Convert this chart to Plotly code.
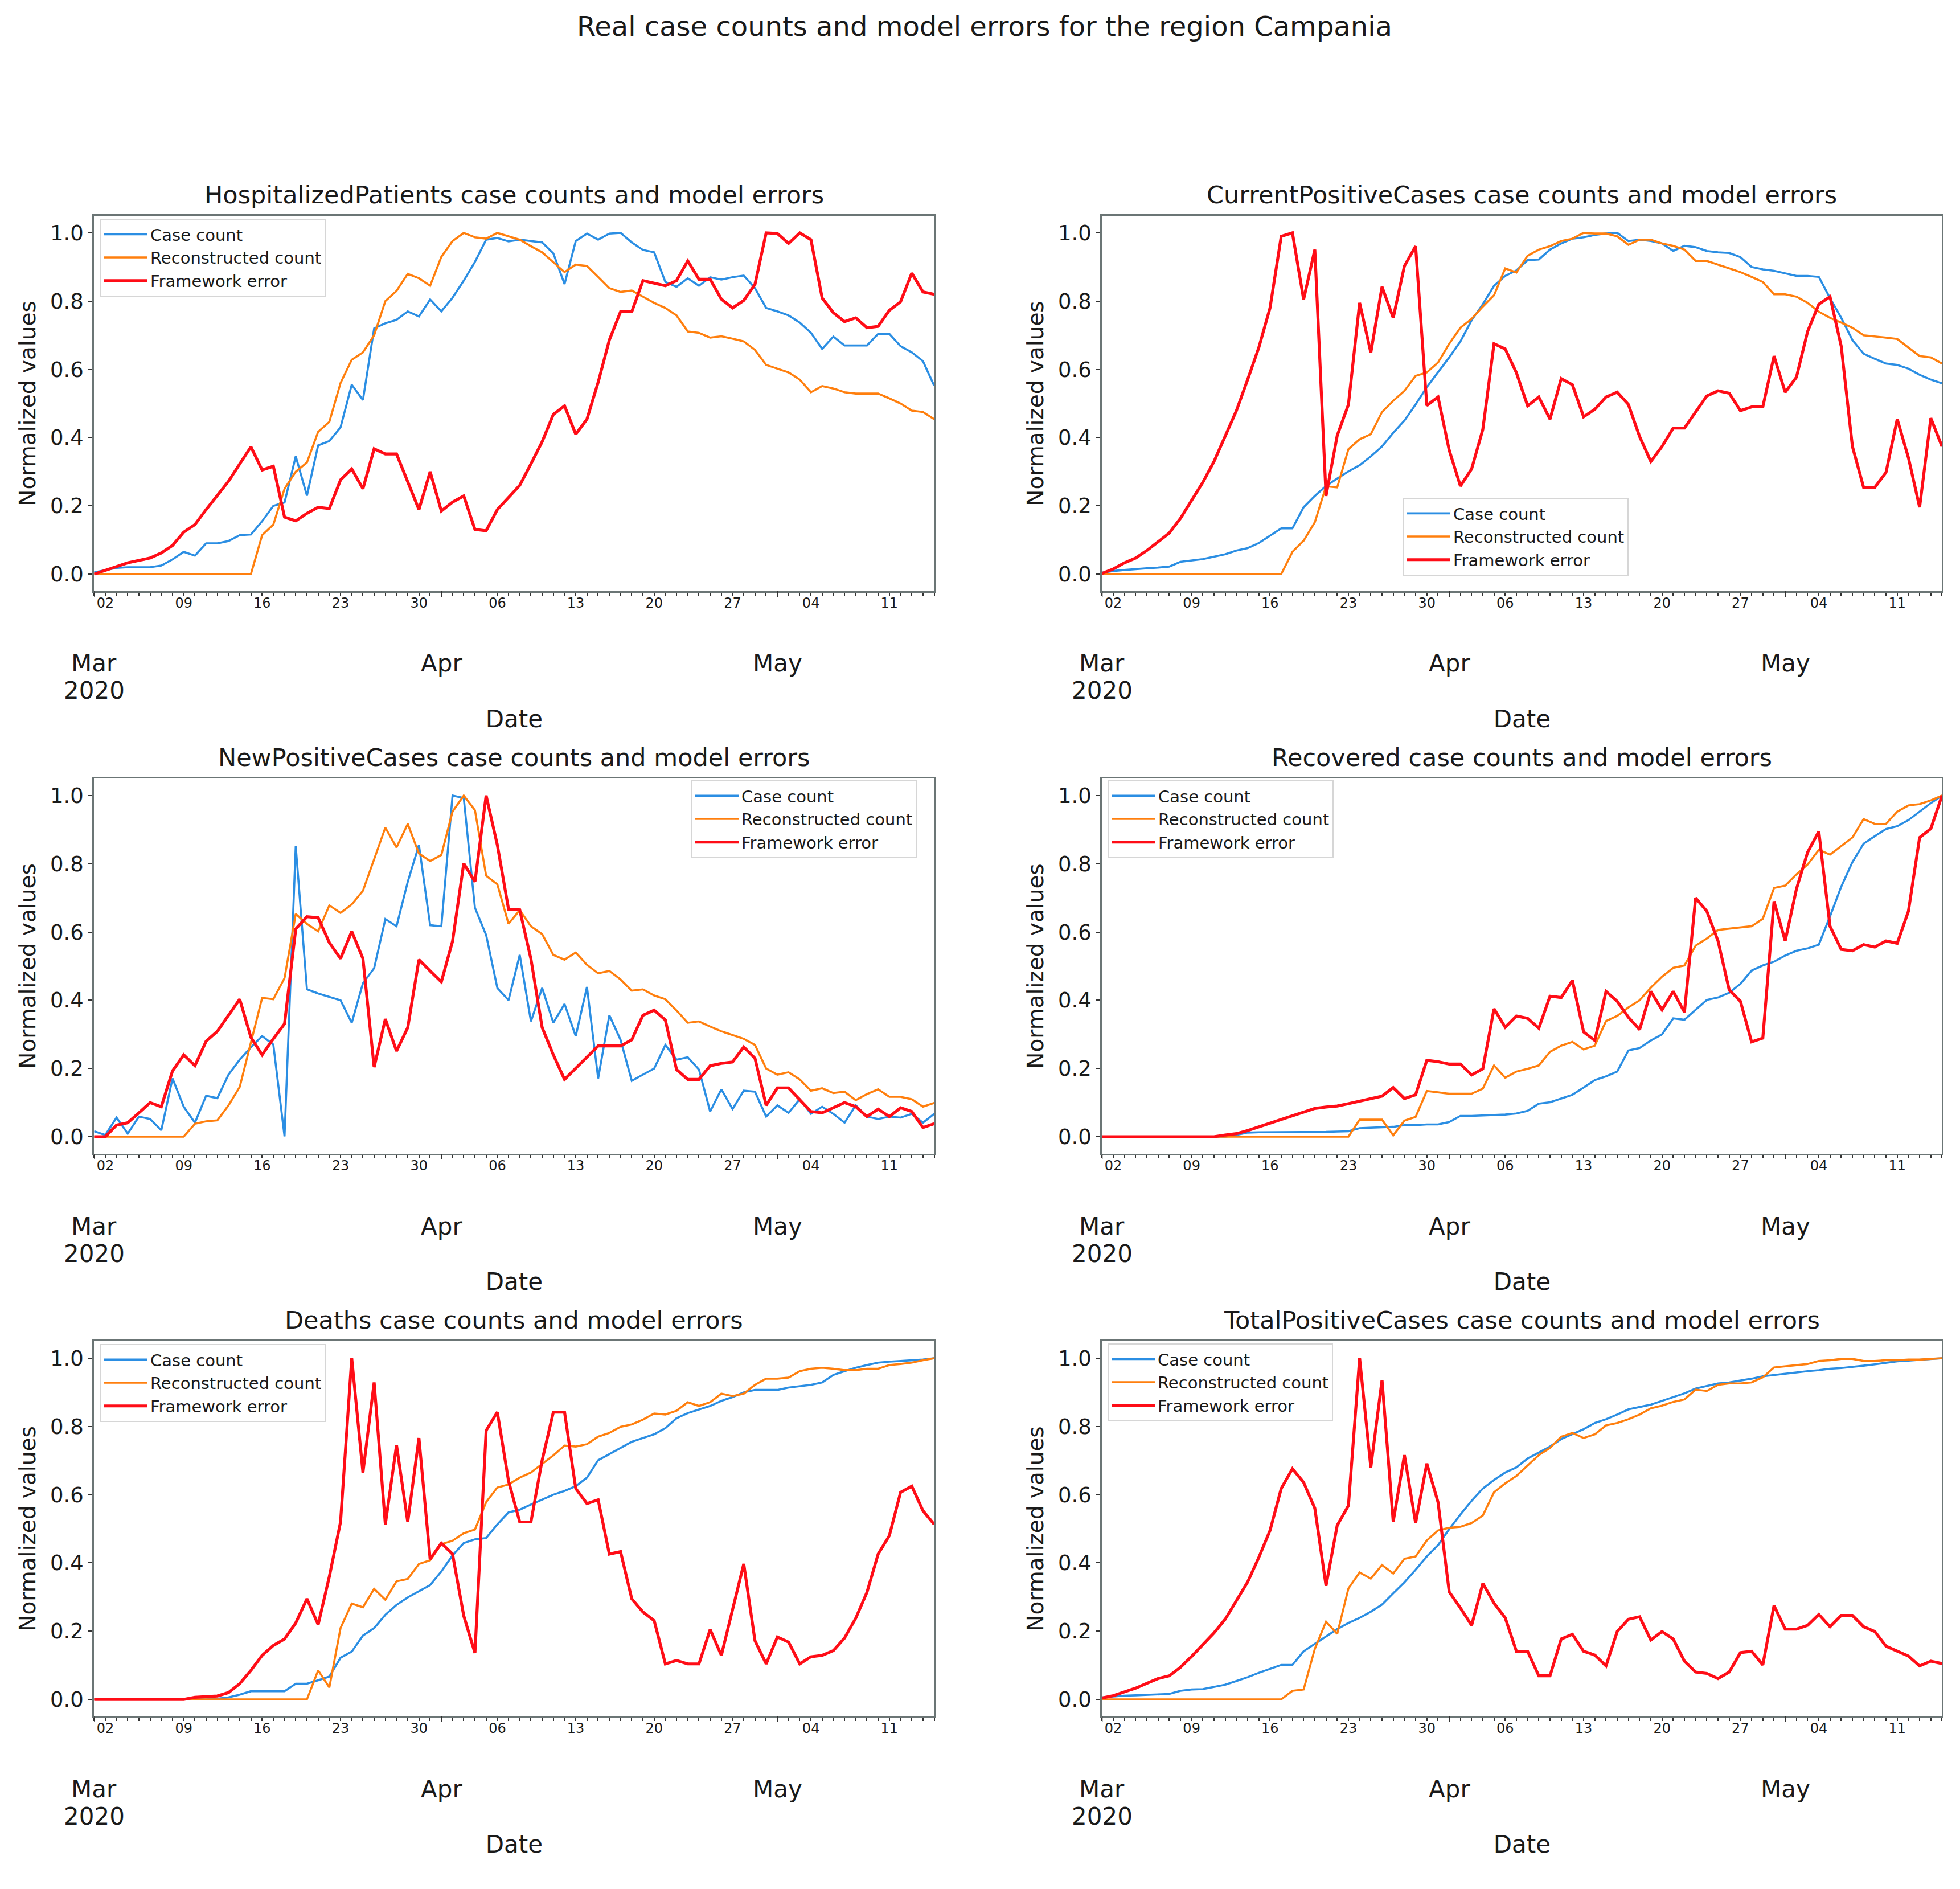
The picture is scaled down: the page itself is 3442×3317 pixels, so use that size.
import pandas as pd
import plotly.graph_objects as go

# ---------------- data ----------------
dates = pd.date_range("2020-03-01", "2020-05-15", freq="D")
week_ticks = pd.date_range("2020-03-02", "2020-05-11", freq="7D")
week_labels = ["02", "09", "16", "23", "30", "06", "13", "20", "27", "04", "11"]
month_ticks = ["2020-03-01", "2020-04-01", "2020-05-01"]
month_labels = ["Mar", "Apr", "May"]
year_tick = "2020-03-01"
year_label = "2020"
series_names = ["Case count", "Reconstructed count", "Framework error"]
panel_titles = [
    "HospitalizedPatients case counts and model errors",
    "CurrentPositiveCases case counts and model errors",
    "NewPositiveCases case counts and model errors",
    "Recovered case counts and model errors",
    "Deaths case counts and model errors",
    "TotalPositiveCases case counts and model errors",
]

hosp_case = [0.005,0.011,0.018,0.02,0.02,0.02,0.025,0.043,0.065,0.054,
             0.09,0.09,0.097,0.114,0.116,0.155,0.2,0.21,0.345,0.23,
             0.377,0.39,0.43,0.555,0.51,0.72,0.735,0.745,0.77,0.755,
             0.805,0.77,0.81,0.86,0.915,0.98,0.985,0.975,0.98,0.976,
             0.972,0.94,0.85,0.976,0.998,0.98,0.998,1.0,0.972,0.95,
             0.943,0.856,0.842,0.867,0.845,0.87,0.863,0.87,0.875,0.838,
             0.78,0.77,0.758,0.737,0.707,0.66,0.696,0.67,0.67,0.67,
             0.704,0.704,0.668,0.65,0.624,0.552]
hosp_rec = [0]*15 + [0.114,0.145,0.25,0.30,0.327,0.417,0.446,0.56,0.628,0.65,
             0.70,0.80,0.83,0.88,0.867,0.845,0.93,0.976,1.0,0.987,
             0.983,1.0,0.99,0.98,0.961,0.943,0.914,0.885,0.907,0.903,
             0.871,0.838,0.827,0.831,0.813,0.795,0.78,0.758,0.711,0.707,
             0.693,0.697,0.69,0.682,0.657,0.613,0.602,0.591,0.57,0.533,
             0.551,0.544,0.533,0.529,0.529,0.529,0.515,0.5,0.479,0.475,0.454]
hosp_err = [0,0.011,0.022,0.033,0.04,0.047,0.062,0.084,0.123,0.145,
            0.189,0.229,0.272,0.323,0.373,0.305,0.316,0.167,0.156,0.178,
            0.196,0.192,0.276,0.308,0.25,0.367,0.352,0.352,0.272,0.189,
            0.3,0.185,0.211,0.229,0.131,0.127,0.189,0.225,0.26,0.323,
            0.388,0.468,0.493,0.41,0.454,0.562,0.686,0.769,0.769,0.86,
            0.853,0.845,0.86,0.918,0.864,0.864,0.806,0.78,0.802,0.849,
            1.0,0.998,0.969,1.0,0.98,0.809,0.766,0.74,0.751,0.722,
            0.726,0.773,0.798,0.882,0.827,0.82]

cur_case = [0.004,0.009,0.012,0.015,0.017,0.019,0.022,0.036,0.04,0.044,
            0.051,0.058,0.069,0.076,0.091,0.113,0.134,0.134,0.196,0.229,
            0.258,0.28,0.301,0.319,0.345,0.374,0.414,0.45,0.497,0.548,
            0.592,0.635,0.682,0.744,0.791,0.845,0.874,0.89,0.92,0.922,
            0.951,0.969,0.983,0.987,0.994,0.998,1.0,0.976,0.98,0.976,
            0.969,0.947,0.962,0.958,0.947,0.943,0.941,0.929,0.9,0.893,
            0.889,0.882,0.874,0.874,0.871,0.809,0.751,0.686,0.646,0.631,
            0.617,0.613,0.602,0.584,0.57,0.559]
cur_rec = [0]*17 + [0.065,0.098,0.152,0.257,0.254,0.366,0.395,0.41,0.475,0.508,
           0.537,0.581,0.591,0.62,0.675,0.722,0.748,0.784,0.817,0.896,
           0.884,0.933,0.951,0.961,0.976,0.983,1.0,0.998,0.998,0.99,
           0.965,0.98,0.98,0.969,0.962,0.951,0.918,0.918,0.907,0.896,
           0.885,0.871,0.856,0.82,0.82,0.813,0.795,0.769,0.751,0.737,
           0.722,0.7,0.697,0.693,0.689,0.664,0.639,0.635,0.617]
cur_err = [0.002,0.015,0.033,0.047,0.069,0.094,0.12,0.163,0.214,0.269,
           0.33,0.403,0.479,0.57,0.664,0.78,0.99,1.0,0.805,0.951,
           0.229,0.406,0.497,0.795,0.649,0.842,0.751,0.903,0.961,0.494,
           0.519,0.363,0.258,0.308,0.424,0.675,0.66,0.59,0.493,0.519,
           0.454,0.573,0.555,0.461,0.483,0.519,0.533,0.497,0.403,0.33,
           0.374,0.428,0.428,0.475,0.522,0.537,0.53,0.479,0.49,0.49,
           0.639,0.533,0.577,0.711,0.791,0.813,0.668,0.374,0.254,0.254,
           0.298,0.454,0.341,0.196,0.457,0.374]

new_case = [0.016,0.005,0.056,0.009,0.059,0.052,0.019,0.171,0.088,0.041,
            0.12,0.113,0.182,0.226,0.262,0.295,0.27,0.001,0.852,0.432,
            0.42,0.41,0.4,0.334,0.45,0.494,0.638,0.617,0.747,0.855,
            0.62,0.617,1.0,0.993,0.671,0.591,0.436,0.4,0.533,0.338,
            0.436,0.334,0.389,0.295,0.439,0.171,0.356,0.284,0.164,0.182,
            0.2,0.269,0.226,0.233,0.197,0.074,0.139,0.081,0.135,0.132,
            0.059,0.092,0.07,0.11,0.067,0.088,0.067,0.041,0.092,0.059,
            0.052,0.059,0.056,0.067,0.041,0.067]
new_rec = [0]*9 + [0.038,0.045,0.048,0.092,0.146,0.276,0.407,0.403,0.465,0.653,
           0.624,0.602,0.678,0.656,0.681,0.721,0.812,0.906,0.848,0.917,
           0.83,0.808,0.826,0.953,1.0,0.957,0.765,0.74,0.624,0.664,
           0.617,0.594,0.533,0.519,0.54,0.504,0.479,0.486,0.461,0.428,
           0.432,0.414,0.403,0.37,0.334,0.338,0.323,0.309,0.298,0.287,
           0.269,0.2,0.182,0.189,0.168,0.135,0.142,0.128,0.132,0.107,
           0.125,0.139,0.117,0.117,0.11,0.088,0.099]
new_err = [0,0,0.034,0.041,0.07,0.1,0.088,0.193,0.24,0.208,
           0.28,0.309,0.356,0.403,0.291,0.24,0.287,0.331,0.609,0.645,
           0.642,0.569,0.522,0.602,0.522,0.204,0.345,0.251,0.32,0.519,
           0.486,0.454,0.573,0.801,0.747,1.0,0.855,0.667,0.665,0.521,
           0.32,0.24,0.168,0.201,0.233,0.266,0.266,0.266,0.284,0.356,
           0.371,0.342,0.197,0.168,0.168,0.208,0.215,0.219,0.263,0.23,
           0.092,0.143,0.143,0.11,0.074,0.07,0.085,0.1,0.088,0.059,
           0.081,0.059,0.085,0.074,0.027,0.038]

recov_case = [0,0,0,0,0,0,0,0,0,0,
              0,0,0.005,0.012,0.013,0.013,0.013,0.013,0.014,0.014,
              0.014,0.015,0.016,0.025,0.026,0.028,0.029,0.034,0.034,0.036,
              0.036,0.043,0.061,0.061,0.062,0.063,0.065,0.068,0.076,0.097,
              0.101,0.112,0.123,0.144,0.166,0.177,0.191,0.253,0.26,0.282,
              0.3,0.347,0.343,0.372,0.401,0.408,0.422,0.448,0.487,0.502,
              0.513,0.531,0.545,0.552,0.563,0.646,0.733,0.805,0.859,0.881,
              0.902,0.91,0.928,0.953,0.978,1.0]
recov_rec = [0]*23 + [0.05,0.05,0.05,0.004,0.047,0.058,0.134,0.13,0.126,0.126,
             0.126,0.141,0.209,0.173,0.191,0.199,0.209,0.249,0.267,0.278,
             0.256,0.267,0.339,0.354,0.379,0.4,0.437,0.469,0.495,0.502,
             0.56,0.581,0.606,0.61,0.614,0.617,0.639,0.729,0.736,0.769,
             0.798,0.841,0.827,0.852,0.877,0.931,0.917,0.917,0.953,0.971,
             0.975,0.986,1.0]
recov_err = [0,0,0,0,0,0,0,0,0,0,
             0,0.005,0.009,0.018,0.029,0.04,0.051,0.061,0.072,0.083,
             0.087,0.09,0.097,0.105,0.112,0.119,0.144,0.112,0.123,0.224,
             0.22,0.213,0.213,0.181,0.199,0.375,0.321,0.354,0.347,0.318,
             0.412,0.408,0.458,0.307,0.282,0.426,0.397,0.35,0.314,0.426,
             0.372,0.426,0.365,0.7,0.661,0.574,0.43,0.397,0.278,0.289,
             0.69,0.574,0.726,0.834,0.895,0.617,0.549,0.545,0.563,0.556,
             0.574,0.567,0.661,0.877,0.903,1.0]

death_case = [0,0,0,0,0,0,0,0,0,0,
              0,0.002,0.006,0.014,0.024,0.024,0.024,0.024,0.046,0.046,
              0.056,0.067,0.122,0.14,0.187,0.209,0.248,0.277,0.299,0.317,
              0.335,0.375,0.422,0.458,0.469,0.473,0.513,0.548,0.556,0.571,
              0.585,0.6,0.611,0.625,0.65,0.701,0.719,0.737,0.755,0.766,
              0.777,0.795,0.824,0.839,0.849,0.86,0.875,0.886,0.9,0.907,
              0.907,0.907,0.914,0.918,0.922,0.929,0.951,0.962,0.972,0.98,
              0.987,0.99,0.992,0.994,0.996,1.0]
death_rec = [0]*20 + [0.085,0.035,0.209,0.281,0.27,0.324,0.292,0.346,0.353,0.397,
             0.408,0.455,0.465,0.487,0.498,0.578,0.621,0.63,0.65,0.665,
             0.69,0.715,0.744,0.741,0.748,0.77,0.781,0.799,0.806,0.82,
             0.838,0.835,0.846,0.871,0.86,0.871,0.896,0.889,0.896,0.922,
             0.94,0.94,0.943,0.962,0.969,0.972,0.969,0.965,0.965,0.969,
             0.969,0.98,0.983,0.987,0.994,1.0]
death_err = [0,0,0,0,0,0,0,0,0,0.006,
             0.009,0.01,0.02,0.046,0.085,0.129,0.158,0.177,0.224,0.295,
             0.219,0.36,0.52,1.0,0.665,0.929,0.513,0.745,0.52,0.766,
             0.411,0.458,0.426,0.245,0.136,0.788,0.842,0.64,0.52,0.52,
             0.701,0.842,0.842,0.618,0.574,0.585,0.426,0.433,0.295,0.256,
             0.231,0.104,0.114,0.104,0.104,0.205,0.129,0.266,0.397,0.172,
             0.104,0.183,0.168,0.104,0.125,0.129,0.143,0.18,0.238,0.314,
             0.426,0.48,0.607,0.625,0.553,0.513]

tot_case = [0.006,0.009,0.011,0.012,0.013,0.014,0.016,0.025,0.029,0.03,
            0.036,0.043,0.054,0.065,0.078,0.09,0.101,0.101,0.141,0.163,
            0.184,0.206,0.224,0.239,0.257,0.278,0.311,0.343,0.38,0.419,
            0.452,0.499,0.542,0.582,0.618,0.643,0.665,0.68,0.706,0.723,
            0.741,0.763,0.777,0.792,0.81,0.821,0.835,0.85,0.857,0.864,
            0.875,0.886,0.897,0.911,0.918,0.926,0.929,0.934,0.94,0.947,
            0.951,0.954,0.958,0.962,0.965,0.969,0.971,0.974,0.978,0.982,
            0.987,0.991,0.993,0.995,0.997,1.0]
tot_rec = [0]*17 + [0.025,0.029,0.148,0.228,0.192,0.325,0.372,0.354,0.394,0.369,
           0.412,0.419,0.466,0.495,0.503,0.506,0.517,0.539,0.607,0.633,
           0.655,0.685,0.716,0.737,0.77,0.781,0.766,0.777,0.803,0.81,
           0.821,0.835,0.853,0.861,0.872,0.879,0.908,0.904,0.922,0.926,
           0.926,0.929,0.944,0.973,0.976,0.98,0.983,0.992,0.994,0.998,
           0.998,0.992,0.992,0.994,0.994,0.996,0.996,0.998,1.0]
tot_err = [0.004,0.011,0.022,0.033,0.047,0.061,0.069,0.094,0.126,0.159,
           0.195,0.235,0.289,0.344,0.416,0.495,0.618,0.676,0.636,0.56,
           0.333,0.51,0.568,1.0,0.68,0.936,0.521,0.716,0.517,0.691,
           0.578,0.315,0.268,0.217,0.34,0.282,0.239,0.141,0.141,0.069,
           0.069,0.177,0.191,0.141,0.13,0.098,0.199,0.235,0.242,0.174,
           0.199,0.177,0.112,0.08,0.076,0.061,0.08,0.137,0.141,0.101,
           0.275,0.206,0.206,0.217,0.249,0.213,0.246,0.246,0.213,0.199,
           0.156,0.141,0.127,0.098,0.112,0.105]

panels = [
    (hosp_case, hosp_rec, hosp_err),
    (cur_case, cur_rec, cur_err),
    (new_case, new_rec, new_err),
    (recov_case, recov_rec, recov_err),
    (death_case, death_rec, death_err),
    (tot_case, tot_rec, tot_err),
]

# ---------------- styling / layout ----------------
W, H = 3442, 3317
FONT = "DejaVu Sans"
TXT = "#1a1a1a"
SPINE = "#6b7575"
line_colors = ["#2b8ee3", "#ff7f0e", "#ff0d17"]
line_widths = [3.6, 3.6, 5.2]

x_doms = [[157.3 / W, 1632.5 / W], [1927.3 / W, 3402.4 / W]]
row_px = [(371, 1030), (1359, 2018), (2347, 3006)]
y_doms = [[1 - b / H, 1 - t / H] for t, b in row_px]

# legend positions (left, top) in px
legend_pos = [(168, 376), (2456, 866), (1206, 1362), (1938, 1362), (168, 2352), (1937, 2351)]

fig = go.Figure()
annotations = []
shapes = []
layout = dict()

for k, series in enumerate(panels):
    r, c = divmod(k, 2)
    n = "" if k == 0 else str(k + 1)
    xname, yname = "x" + n, "y" + n
    lname = "legend" + n
    for s, vals in enumerate(series):
        fig.add_trace(go.Scatter(
            x=dates, y=vals, mode="lines", name=series_names[s],
            line=dict(color=line_colors[s], width=line_widths[s]),
            xaxis=xname, yaxis=yname, legend=lname,
        ))
    layout["xaxis" + n] = dict(
        domain=x_doms[c], anchor=yname, type="date",
        range=[dates[0], dates[-1]],
        tickvals=list(week_ticks), ticktext=week_labels,
        ticks="outside", ticklen=5, tickwidth=2, tickcolor="#333",
        ticklabelstandoff=-8,
        tickfont=dict(size=24, color=TXT, family=FONT),
        showline=True, linecolor=SPINE, linewidth=3, mirror=True,
        showgrid=False, zeroline=False, automargin=False,
        minor=dict(ticks="outside", dtick=86400000, tick0="2020-03-01",
                   ticklen=5, tickwidth=2, tickcolor="#333", showgrid=False),
        title=dict(text="Date", font=dict(size=42, color=TXT, family=FONT), standoff=176),
    )
    layout["yaxis" + n] = dict(
        domain=y_doms[r], anchor=xname, range=[-0.05, 1.05],
        tickvals=[0, 0.2, 0.4, 0.6, 0.8, 1.0], tickformat=".1f",
        ticks="outside", ticklen=8, tickwidth=2, tickcolor="#333",
        tickfont=dict(size=37, color=TXT, family=FONT),
        showline=True, linecolor=SPINE, linewidth=3, mirror=True,
        showgrid=False, zeroline=False, automargin=False,
        title=dict(text="Normalized values", font=dict(size=39, color=TXT, family=FONT), standoff=14),
    )
    lx, ly = legend_pos[k]
    layout[lname] = dict(
        x=lx / W, y=1 - ly / H, xanchor="left", yanchor="top",
        bgcolor="rgba(255,255,255,0.85)", bordercolor="#d6d6d6", borderwidth=2,
        font=dict(size=29, color=TXT, family=FONT), tracegroupgap=0,
        itemwidth=76,
    )
    # subplot title
    annotations.append(dict(
        text=panel_titles[k], xref=xname + " domain", yref=yname + " domain",
        x=0.5, y=1, xanchor="center", yanchor="middle", yshift=37, showarrow=False,
        font=dict(size=43, color=TXT, family=FONT),
    ))
    # month labels and month tick marks
    for mt, ml in zip(month_ticks, month_labels):
        annotations.append(dict(
            text=ml, xref=xname, yref=yname + " domain", x=mt, y=0,
            xanchor="center", yanchor="middle", yshift=-127, showarrow=False,
            font=dict(size=42, color=TXT, family=FONT),
        ))
        shapes.append(dict(
            type="line", xref=xname, yref=yname + " domain", x0=mt, x1=mt,
            y0=0, y1=-10 / 659, line=dict(color="#333", width=2),
        ))
    annotations.append(dict(
        text=year_label, xref=xname, yref=yname + " domain", x=year_tick, y=0,
        xanchor="center", yanchor="middle", yshift=-175, showarrow=False,
        font=dict(size=42, color=TXT, family=FONT),
    ))

fig.update_layout(
    width=W, height=H,
    margin=dict(l=0, r=0, t=0, b=0),
    paper_bgcolor="white", plot_bgcolor="white",
    font=dict(family=FONT, color=TXT),
    title=dict(text="Real case counts and model errors for the region Campania",
               x=0.5, xanchor="center", y=1 - 38 / H, yanchor="middle",
               font=dict(size=48, color=TXT, family=FONT)),
    annotations=annotations, shapes=shapes,
    **layout,
)

fig.write_html("out.html")
